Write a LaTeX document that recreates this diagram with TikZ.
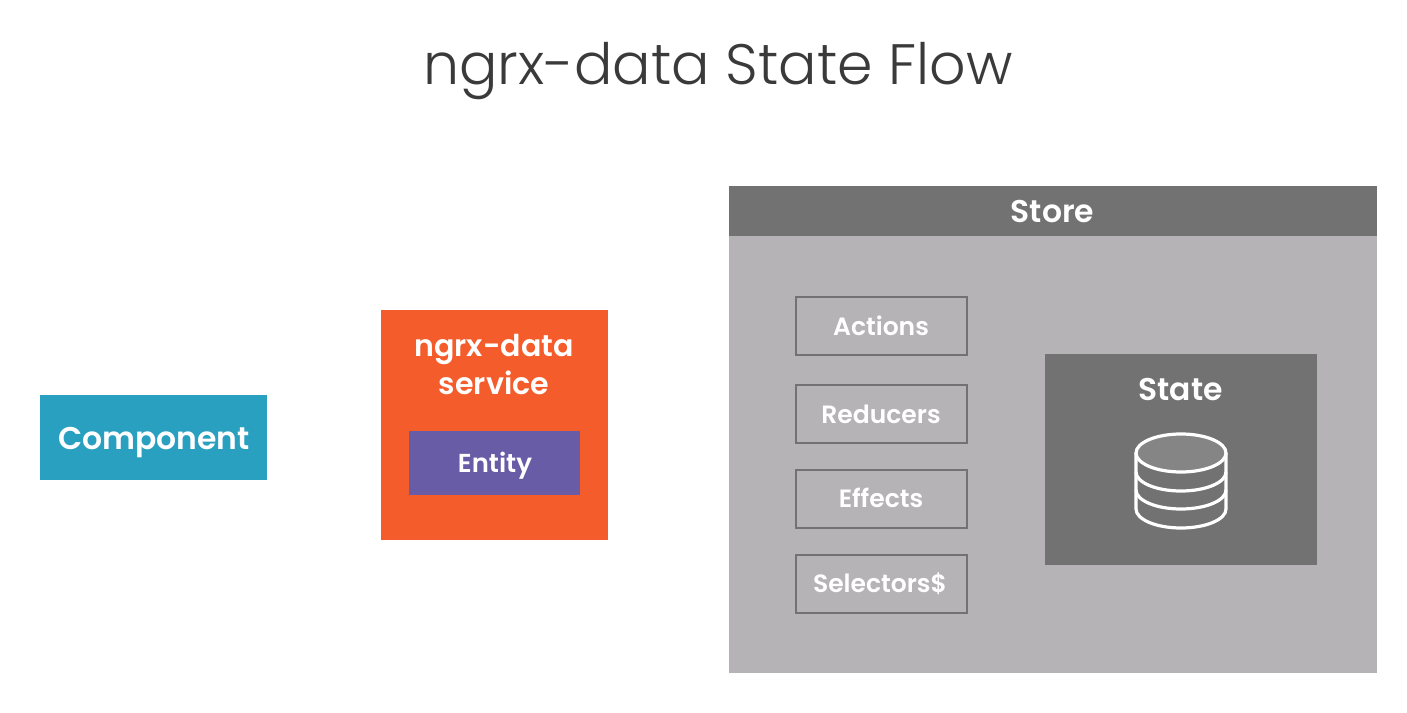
\documentclass[tikz,border=0pt]{standalone}
\usepackage{fontspec}
\setmainfont{Poppins}
\newfontfamily\lightf{Poppins Light}
\newfontfamily\semif{Poppins SemiBold}
\definecolor{teal1}{HTML}{2AA0C1}
\definecolor{orange1}{HTML}{F55C2B}
\definecolor{purple1}{HTML}{695CA6}
\definecolor{gray1}{HTML}{727272}
\definecolor{gray2}{HTML}{B5B3B6}
\definecolor{gray4}{HTML}{858585}
\definecolor{title1}{HTML}{3A3A3A}
\tikzset{x=0.0264cm,y=-0.0264cm,
 big/.style={anchor=base,text=white,font=\fontsize{23.6}{28}\selectfont\semif,inner sep=0pt},
 svc/.style={anchor=base,text=white,font=\fontsize{22.6}{28}\selectfont\semif,inner sep=0pt},
 lbl/.style={anchor=base,text=white,font=\fontsize{19.5}{23}\selectfont\semif,inner sep=0pt},
 small/.style={rectangle,draw=gray1,line width=1.8pt,minimum width=4.52cm,minimum height=1.53cm,inner sep=0pt},
 smalltext/.style={anchor=base,text=white,font=\fontsize{18.8}{22}\selectfont\semif,inner sep=0pt},
 dbline/.style={draw=white,line width=2.4pt}}
\begin{document}
\begin{tikzpicture}
\useasboundingbox (0,0) rectangle (1407,713);
\node[anchor=base,inner sep=0pt,text=title1,font=\fontsize{42.8}{50}\selectfont\lightf] (title) at (718,85) {ngrx-data State Flow};
\fill[teal1] (40,395) rectangle (267,480);
\node[big] (comp) at (154,449) {Component};
\fill[orange1] (381,310) rectangle (608,540);
\node[svc] (svc1) at (494,356) {ngrx-data};
\node[svc] (svc2) at (494,394) {service};
\fill[purple1] (409,431) rectangle (580,495);
\node[lbl] (entity) at (495,472) {Entity};
\fill[gray2] (729,186) rectangle (1377,673);
\fill[gray1] (729,186) rectangle (1377,236);
\node[big] (store) at (1052.5,223) {Store};
\node[small] (a) at (881.5,326) {};
\node[small] (r) at (881.5,414) {};
\node[small] (e) at (881.5,499) {};
\node[small] (s) at (881.5,584) {};
\node[smalltext] (at) at (881,335) {Actions};
\node[smalltext] (rt) at (881,423) {Reducers};
\node[smalltext] (et) at (881,507) {Effects};
\node[smalltext] (st) at (880,592) {Selectors\$};
\fill[gray1] (1045,354) rectangle (1317,565);
\node[big] (state) at (1180.5,400) {State};
\draw[dbline,fill=gray4] (1181,453) ellipse [x radius=45,y radius=19];
\draw[dbline] (1136,453) -- (1136,509) arc[start angle=180,end angle=360,x radius=45,y radius=-19] -- (1226,453);
\draw[dbline] (1136,472) arc[start angle=180,end angle=360,x radius=45,y radius=-19];
\draw[dbline] (1136,490) arc[start angle=180,end angle=360,x radius=45,y radius=-19];
\end{tikzpicture}
\end{document}
